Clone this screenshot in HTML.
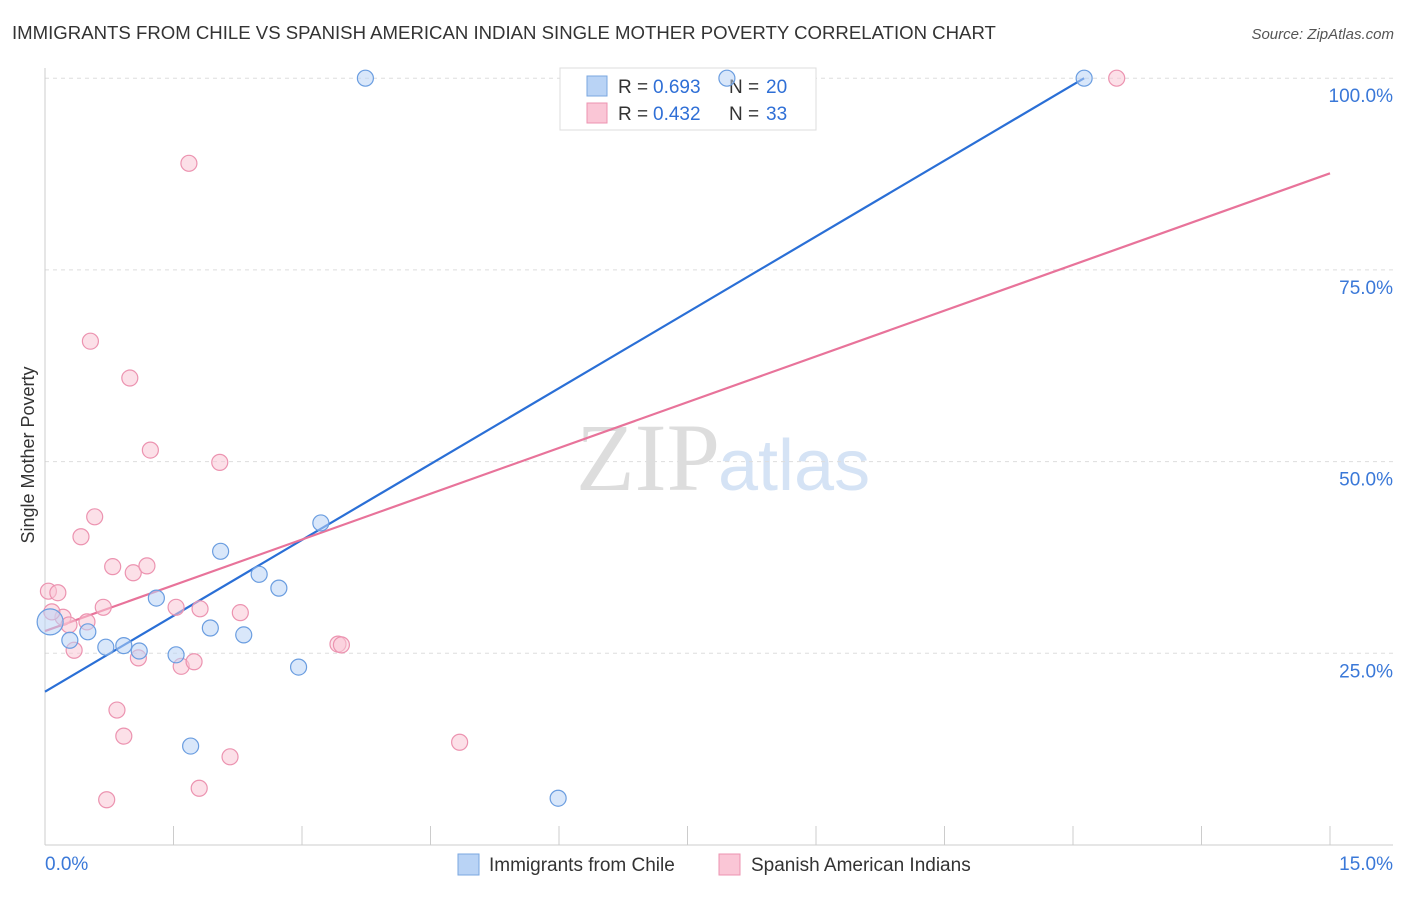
<!DOCTYPE html>
<html><head><meta charset="utf-8"><style>
body{margin:0;background:#fff;font-family:"Liberation Sans",sans-serif;}
</style></head><body>
<svg width="1406" height="892" xmlns="http://www.w3.org/2000/svg" id="chart">
<text x="12" y="39" font-size="18.6" fill="#333">IMMIGRANTS FROM CHILE VS SPANISH AMERICAN INDIAN SINGLE MOTHER POVERTY CORRELATION CHART</text>
<text x="1394" y="39" font-size="15" fill="#555" text-anchor="end" font-style="italic">Source: ZipAtlas.com</text>
<text x="720" y="490" font-size="96" fill="#ddd" text-anchor="end" font-family="Liberation Serif,serif">ZIP</text>
<text x="718" y="490" font-size="72" fill="#d5e3f5">atlas</text>
<text x="34" y="455" font-size="18" fill="#333" text-anchor="middle" transform="rotate(-90 34 455)">Single Mother Poverty</text>
<g id="grid"></g><g id="axes"></g>
<g>
<rect x="560" y="68" width="256" height="62" fill="#fff" stroke="#ddd"/>
<rect x="587" y="76" width="20" height="20" fill="#b9d3f5" stroke="#7aa7e0"/>
<rect x="587" y="103" width="20" height="20" fill="#fac6d6" stroke="#ec93b0"/>
<text x="618" y="93" font-size="19" fill="#333">R =</text>
<text x="653" y="93" font-size="19" fill="#2f6fd6">0.693</text>
<text x="729" y="93" font-size="19" fill="#333">N =</text>
<text x="766" y="93" font-size="19" fill="#2f6fd6">20</text>
<text x="618" y="120" font-size="19" fill="#333">R =</text>
<text x="653" y="120" font-size="19" fill="#2f6fd6">0.432</text>
<text x="729" y="120" font-size="19" fill="#333">N =</text>
<text x="766" y="120" font-size="19" fill="#2f6fd6">33</text>
</g>
<g id="lines"></g><g id="pts"></g>
<g>
<rect x="458" y="854" width="21" height="21" fill="#b9d3f5" stroke="#7aa7e0"/>
<text x="489" y="871" font-size="19" fill="#333">Immigrants from Chile</text>
<rect x="719" y="854" width="21" height="21" fill="#fac6d6" stroke="#ec93b0"/>
<text x="751" y="871" font-size="19" fill="#333">Spanish American Indians</text>
</g>
</svg>
<script>
const blueX=[3.74,7.96,12.13,0.06,0.29,0.50,0.71,0.92,1.10,1.30,1.53,1.70,1.93,2.05,2.32,2.50,2.73,2.96,3.22,5.99];
const blueY=[100,100,100,29.1,26.7,27.8,25.8,26.0,25.3,32.2,24.8,12.9,28.3,38.3,27.4,35.3,33.5,23.2,42.0,6.1];
const pinkX=[12.51,1.68,0.53,0.99,1.23,2.04,0.58,0.42,0.79,1.03,1.19,0.04,0.15,0.68,1.53,1.81,2.28,0.21,0.49,0.28,0.34,1.09,1.59,1.74,3.42,3.46,0.84,0.92,4.84,2.16,0.72,1.80,0.08];
const pinkY=[100,88.9,65.7,60.9,51.5,49.9,42.8,40.2,36.3,35.5,36.4,33.1,32.9,31.0,31.0,30.8,30.3,29.7,29.1,28.7,25.4,24.4,23.3,23.9,26.2,26.1,17.6,14.2,13.4,11.5,5.9,7.4,30.4];
const blueLine=[[0,20.0],[12.13,100]];
const pinkLine=[[0,27.9],[15,87.6]];
const yTicks=[25,50,75,100];
const yTickLabels=["25.0%","50.0%","75.0%","100.0%"];
const xTicks=[0,1.5,3,4.5,6,7.5,9,10.5,12,13.5,15];
const xLabels=[[0,"0.0%"],[15,"15.0%"]];
const NS="http://www.w3.org/2000/svg";
const sx=v=>45+v/1.5*128.5, sy=v=>845-v*7.668;
function mk(tag,attrs,parent,name,inter){const e=document.createElementNS(NS,tag);for(const k in attrs)e.setAttribute(k,attrs[k]);document.getElementById(parent).appendChild(e);


return e;}
yTicks.forEach((t,i)=>{mk('line',{x1:45,x2:1393,y1:sy(t),y2:sy(t),stroke:'#ddd','stroke-dasharray':'4 4'},'grid','gridline','false');
const tx=mk('text',{x:1393,y:sy(t)+24,'font-size':19,fill:'#3a78d8','text-anchor':'end'},'grid','y-tick-label','false');tx.textContent=yTickLabels[i];});
mk('line',{x1:45,x2:45,y1:68,y2:845,stroke:'#ccc'},'axes','y-axis','false');
mk('line',{x1:45,x2:1393,y1:845,y2:845,stroke:'#ccc'},'axes','x-axis','false');
xTicks.forEach(t=>mk('line',{x1:sx(t),x2:sx(t),y1:826,y2:845,stroke:'#ccc'},'axes','x-tick','false'));
xLabels.forEach(([v,l],i)=>{const tx=mk('text',{x:i?1393:45,y:870,'font-size':19,fill:'#3a78d8','text-anchor':i?'end':'start'},'axes','x-tick-label','false');tx.textContent=l;});
function drawPts(X,Y,fill,stroke,name){X.forEach((x,i)=>mk('circle',{cx:sx(x),cy:sy(Y[i]),r:(i==3&&name=='blue-point')?13:8,fill:fill,stroke:stroke,'stroke-width':1.2,'fill-opacity':0.55},'pts',name,'true'));}
drawPts(pinkX,pinkY,'#fac6d6','#ec93b0','pink-point');
drawPts(blueX,blueY,'#b9d3f5','#6a9de0','blue-point');
mk('line',{x1:sx(blueLine[0][0]),y1:sy(blueLine[0][1]),x2:sx(blueLine[1][0]),y2:sy(blueLine[1][1]),stroke:'#2a6fd6','stroke-width':2.2},'lines','blue-trend-line','false');
mk('line',{x1:sx(pinkLine[0][0]),y1:sy(pinkLine[0][1]),x2:sx(pinkLine[1][0]),y2:sy(pinkLine[1][1]),stroke:'#e8739a','stroke-width':2.2},'lines','pink-trend-line','false');
</script>
</body></html>
